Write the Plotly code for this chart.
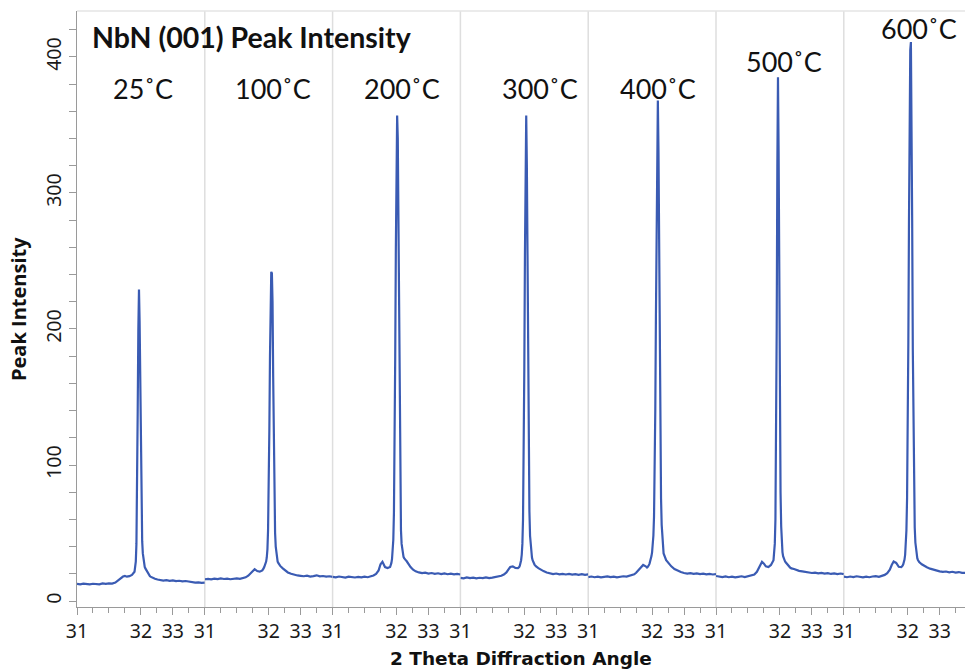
import plotly.graph_objects as go

# ---------------- data ----------------
two_theta = [31.00, 31.05, 31.10, 31.15, 31.20, 31.25, 31.30, 31.35, 31.40, 31.45,
             31.50, 31.55, 31.60, 31.64, 31.68, 31.72, 31.75, 31.78, 31.82, 31.86,
             31.90, 31.91, 31.92, 31.93, 31.94, 31.95, 31.96, 31.97, 31.98, 31.99,
             32.00, 32.01, 32.02, 32.03, 32.04, 32.05, 32.06, 32.07, 32.08, 32.09,
             32.10, 32.11, 32.12, 32.13, 32.14, 32.15, 32.16, 32.17, 32.18,
             32.22, 32.26, 32.30, 32.35, 32.40, 32.45, 32.50, 32.55, 32.60, 32.65,
             32.70, 32.75, 32.80, 32.85, 32.90, 32.95, 33.00]

temperatures = ["25˚C", "100˚C", "200˚C", "300˚C", "400˚C", "500˚C", "600˚C"]

int_25 = [12.6, 12.3, 12.8, 12.4, 12.2, 12.7, 12.5, 12.3, 12.9, 12.6,
          13.0, 12.8, 13.6, 15.2, 17.0, 18.0, 18.4, 17.9, 18.3, 19.2,
          21.5, 24, 29, 42, 80, 140, 200, 229, 205, 150,
          96, 62, 44, 35, 30, 27, 25, 24, 23, 22,
          21, 20.2, 19.5, 18.8, 18.3, 17.9, 17.6, 17.3, 17.1,
          16.4, 15.8, 15.4, 15.0, 15.3, 14.8, 15.1, 14.6, 14.9, 14.4,
          14.7, 14.2, 13.8, 13.5, 13.7, 13.3, 13.5]

int_100 = [16.0, 16.3, 15.9, 16.4, 16.1, 16.6, 16.2, 16.5, 16.0, 16.4,
           16.7, 16.3, 16.9, 17.4, 18.6, 20.5, 22.5, 23.4, 22.0, 21.6,
           22.5, 23, 24, 25, 26, 27.5, 29, 32, 38, 52,
           80, 125, 180, 225, 242, 241, 220, 165, 108, 70,
           50, 40, 34, 31, 29, 28, 27, 26.3, 25.8,
           24, 22.5, 21, 20, 19.3, 18.8, 18.5, 18.2, 18.6, 18.0,
           18.3, 18.9, 18.1, 18.4, 17.9, 18.2, 17.8]

int_200 = [17.8, 17.4, 18.0, 17.5, 17.2, 17.9, 17.6, 17.3, 17.7, 17.4,
           17.9, 17.5, 18.2, 18.8, 20.0, 22.5, 27.0, 28.8, 25.0, 24.3,
           25, 26, 28, 31, 36, 45, 65, 110, 180, 260,
           330, 357, 340, 270, 185, 115, 72, 52, 42, 37,
           34, 32.5, 31.5, 30.5, 30, 29.7, 29.2, 28.4, 27.5,
           25.0, 23.0, 21.8, 21.0, 20.5, 20.8, 20.2, 20.6, 20.0, 20.4,
           19.8, 20.3, 19.7, 20.1, 19.6, 20.0, 19.5]

int_300 = [17.0, 16.7, 17.3, 16.8, 17.2, 16.6, 17.1, 16.9, 17.4, 16.8,
           17.2, 17.6, 18.0, 18.6, 19.5, 21.0, 23.0, 25.0, 25.5, 24.3,
           24.2, 24.5, 25, 26, 27.5, 30, 34, 42, 60, 100,
           170, 255, 330, 357, 320, 240, 160, 100, 66, 48,
           40, 35, 32, 30, 28.5, 27.6, 26.8, 26.2, 25.6,
           24.2, 23, 22, 21, 20.3, 19.8, 20.2, 19.6, 20.0, 19.5,
           19.9, 19.4, 19.8, 19.3, 19.7, 19.2, 19.6]

int_400 = [17.6, 18.0, 17.5, 17.9, 17.4, 17.8, 18.1, 17.6, 17.9, 17.4,
           17.8, 18.2, 18.0, 18.4, 18.9, 19.6, 20.8, 22.5, 25.0, 26.5,
           25.5, 24.8, 24.6, 25, 25.5, 26.5, 27.5, 29, 31, 33,
           36, 40, 48, 62, 90, 140, 210, 290, 350, 368,
           330, 250, 170, 110, 75, 56, 45, 39, 35,
           30, 27.5, 25.5, 23.5, 22.3, 21.3, 20.6, 20.2, 20.5, 20.0,
           20.3, 19.8, 20.1, 19.6, 19.9, 19.5, 19.8]

int_500 = [18.4, 18.0, 17.6, 18.1, 17.5, 17.9, 17.4, 17.8, 18.2, 17.6,
           18.1, 18.6, 19.5, 21.5, 25.0, 28.8, 27.5, 25.5, 25.0, 26.5,
           30, 34, 42, 60, 110, 200, 320, 385, 330, 220,
           130, 80, 55, 42, 36, 33, 31, 30, 29.2, 28.5,
           27.8, 27.2, 26.6, 26, 25.5, 25, 24.6, 24.3, 24,
           23.5, 22.8, 22.2, 21.8, 21.4, 21.0, 20.6, 20.9, 20.3, 20.7,
           20.1, 20.5, 19.9, 20.3, 19.8, 20.2, 19.8]

int_600 = [17.9, 17.5, 18.0, 17.6, 18.2, 17.7, 17.4, 17.9, 17.5, 18.0,
           18.3, 17.8, 18.5, 19.2, 20.5, 23.0, 26.5, 29.0, 28.0, 25.2,
           25, 25.3, 26, 27, 28.5, 30.5, 34, 40, 52, 75,
           120, 190, 280, 360, 405, 411, 370, 280, 185, 115,
           75, 54, 43, 37, 33.5, 31.5, 30.2, 29.3, 28.6,
           27, 25.8, 24.8, 23.8, 23.0, 22.3, 21.8, 21.4, 21.7, 21.1,
           21.5, 20.9, 21.3, 20.7, 21.0, 20.6, 20.9]

intensities = [int_25, int_100, int_200, int_300, int_400, int_500, int_600]

# label positions (data coords within each panel)
label_x = [32.03, 32.06, 32.08, 32.24, 32.10, 32.06, 32.17]
label_y = [377, 377, 377, 377, 377, 397, 421]

x_tick_vals = [31, 32, 32.5]
x_tick_text = ["31", "32", "33"]
y_tick_vals = [0, 100, 200, 300, 400]

# ---------------- figure ----------------
W, H = 965, 670
ML, MR, MT, MB = 77, 0, 11, 63
plot_w = W - ML - MR
plot_h = H - MT - MB
panel_px = 127.8
line_color = "#3a5bb3"
axis_gray = "#9a9a9a"
sep_gray = "#dedede"
tick_font = dict(family="Noto Sans, Open Sans, DejaVu Sans", size=19.5, color="#1a1a1a")

fig = go.Figure()
layout = dict(
    width=W, height=H,
    margin=dict(l=ML, r=MR, t=MT, b=MB, autoexpand=False),
    paper_bgcolor="white", plot_bgcolor="white",
    showlegend=False,
)

shapes = []
annotations = []
n = len(intensities)
for k in range(n):
    ax = "x" if k == 0 else f"x{k+1}"
    axkey = "xaxis" if k == 0 else f"xaxis{k+1}"
    d0 = k * panel_px / plot_w
    d1 = min(1.0, (k + 1) * panel_px / plot_w)
    width_units = (d1 - d0) * plot_w / panel_px * 2.0
    fig.add_trace(go.Scatter(
        x=two_theta, y=intensities[k], xaxis=ax, yaxis="y",
        mode="lines", line=dict(color=line_color, width=2.2),
        hoverinfo="skip",
    ))
    layout[axkey] = dict(
        domain=[d0, d1], anchor="y", range=[31, 31 + width_units],
        showgrid=False, zeroline=False,
        showline=True, linecolor=axis_gray, linewidth=1,
        ticks="outside", ticklen=7, tickcolor=axis_gray, tickwidth=1,
        tickvals=x_tick_vals, ticktext=x_tick_text, tickfont=tick_font,
        minor=dict(ticks="outside", tick0=31, dtick=0.25, ticklen=5,
                   tickcolor=axis_gray, tickwidth=1, showgrid=False),
        fixedrange=True,
    )
    if k > 0:
        shapes.append(dict(type="line", xref=f"{ax} domain", x0=0, x1=0,
                           yref="paper", y0=0, y1=1,
                           line=dict(color=sep_gray, width=1.5), layer="below"))
    annotations.append(dict(
        xref=ax, yref="y", x=label_x[k], y=label_y[k], text=temperatures[k],
        showarrow=False, xanchor="center", yanchor="middle",
        font=dict(family="Lato, Open Sans, sans-serif", size=27, color="#111"),
    ))

shapes.append(dict(type="line", xref="paper", x0=0, x1=1, yref="paper", y0=1, y1=1,
                   line=dict(color="#e4e4e4", width=1.5), layer="below"))

layout["yaxis"] = dict(
    domain=[0, 1], anchor="x", range=[-4.4, 433.8],
    showgrid=False, zeroline=False,
    showline=True, linecolor=axis_gray, linewidth=1,
    ticks="outside", ticklen=7, tickcolor=axis_gray, tickwidth=1,
    tickvals=y_tick_vals, tickangle=-90, tickfont=tick_font,
    minor=dict(ticks="outside", tick0=0, dtick=20, ticklen=7,
               tickcolor=axis_gray, tickwidth=1, showgrid=False),
    fixedrange=True,
)

# title & axis titles
annotations.append(dict(
    xref="paper", yref="paper", x=(90 - ML) / plot_w, y=(H - MB - 37) / plot_h,
    text="<b>NbN (001) Peak Intensity</b>", showarrow=False,
    xanchor="left", yanchor="middle",
    font=dict(family="Lato, Open Sans, sans-serif", size=28.5, color="#111"),
))
annotations.append(dict(
    xref="paper", yref="paper", x=(521 - ML) / plot_w, y=-(658 - (H - MB)) / plot_h,
    text="<b>2 Theta Diffraction Angle</b>", showarrow=False,
    xanchor="center", yanchor="middle",
    font=dict(family="DejaVu Sans", size=18.5, color="#111"),
))
annotations.append(dict(
    xref="paper", yref="paper", x=-(ML - 18.5) / plot_w, y=(H - MB - 309.5) / plot_h,
    text="<b>Peak Intensity</b>", showarrow=False, textangle=-90,
    xanchor="center", yanchor="middle",
    font=dict(family="Open Sans, Noto Sans, sans-serif", size=20, color="#111"),
))

layout["shapes"] = shapes
layout["annotations"] = annotations
fig.update_layout(**layout)
fig.write_html("out.html", config={"displayModeBar": False},
               post_script="document.body.style.margin='0';")
